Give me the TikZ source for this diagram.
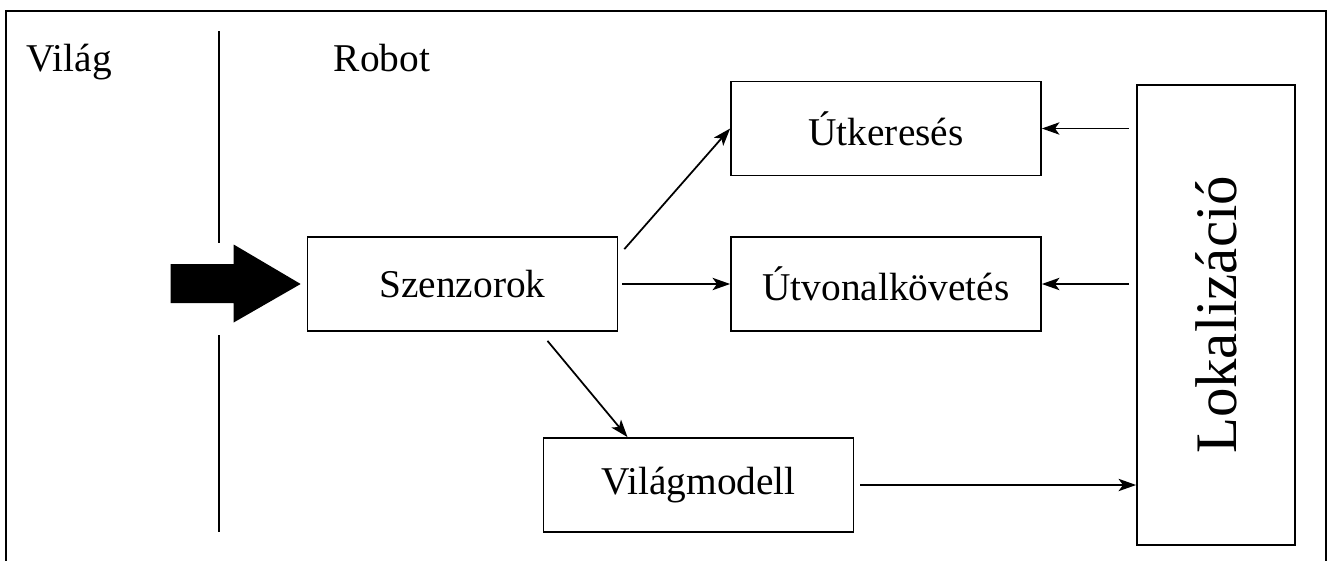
\documentclass[tikz,border=0pt]{standalone}
\usepackage{fontspec}
\setmainfont{Liberation Serif}
\usetikzlibrary{arrows.meta}

\begin{document}
\begin{tikzpicture}[x=.02cm,y=-.02cm,line width=1pt,
    >={Stealth[length=10pt,width=7pt,inset=2.5pt]},
    every node/.style={font=\fontsize{22.4}{27}\selectfont},
    box/.style={draw,inner sep=0pt,minimum width=6.2cm,minimum height=1.88cm}]
\useasboundingbox (0,0) rectangle (1332,561);
\draw (6,561) -- (6,11) -- (1326,11) -- (1326,561);
\draw[line width=1.2pt]
      (219, 31) -- (219,243)
      (219,335) -- (219,532);
\path
      ( 26, 71) node [anchor=base west,inner sep=0pt] (vilag) {Világ}
      (333, 71) node [anchor=base west,inner sep=0pt] (robot) {Robot};

\path
      (462.5,284  ) node [box] (szenz)  {Szenzorok}
      (886  ,128.5) node [box] (utker)  {Útkeresés}
      (886  ,284  ) node [box] (utkov)  {Útvonalkövetés}
      (698.5,485  ) node [box] (vilmod) {Világmodell}
      (1216 ,315  ) node [box,rotate=90,minimum width=9.2cm,minimum height=3.16cm,
                          font=\fontsize{33.5}{40}\selectfont] (lokal) {Lokalizáció};

\fill ([xshift=-.12cm]szenz.west) -- ++(-67,-39.5) -- ++(0,19.5) -- ++(-63,0)
    -- ++(0,39) -- ++(63,0) -- ++(0,19.5) -- cycle;

\draw[->] ([xshift=.12cm,yshift=-.26cm]szenz.north east) -- (utker.west);
\draw[->,shorten <=.08cm] (szenz.east) -- (utkov.west);
\draw[->] ([xshift=1.7cm,yshift=-.18cm]szenz.south) -- ([xshift=-1.42cm]vilmod.north);
\draw[->,shorten <=.12cm] (vilmod.east) -- (vilmod.east -| lokal.north);
\draw[->,shorten <=.14cm] (utker.east -| lokal.north) -- (utker.east);
\draw[->,shorten <=.14cm] (utkov.east -| lokal.north) -- (utkov.east);
\end{tikzpicture}
\end{document}
